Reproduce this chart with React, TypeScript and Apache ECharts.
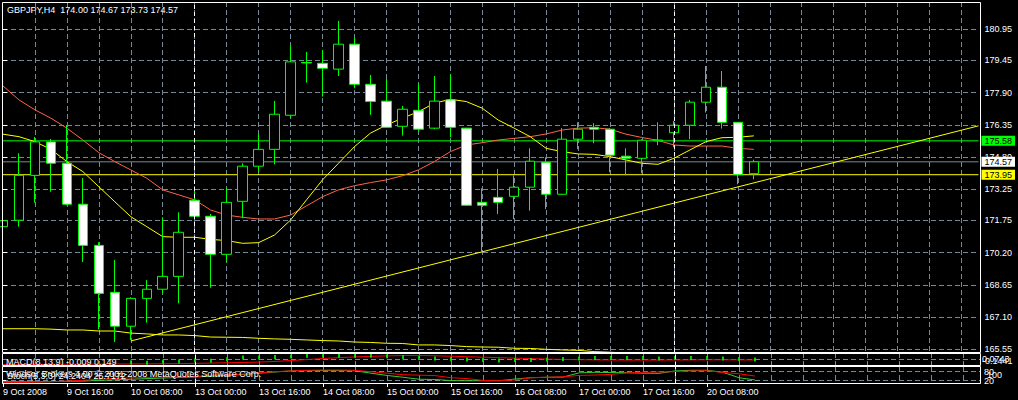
import React, { useEffect, useRef } from "react";
import * as echarts from "echarts";

// ---------------- DATA ----------------
const titleText = "GBPJPY,H4  174.00 174.67 173.73 174.57";
const macdLabel = "MACD(8,13,9) -0.009 0.149";
const brokerLabel = "Windsor Brokers 4.00 \u00a9 2001-2008 MetaQuotes Software Corp.";
const stochLabel = "Stoch(5,3,3) 24.2404 25.7172";
const macdScaleLabels = ["0.0743", "-0.1441"];
const stochExtraLabel = "100";

const timeLabels = [
  "9 Oct 2008", "9 Oct 16:00", "10 Oct 08:00", "13 Oct 00:00", "13 Oct 16:00", "14 Oct 08:00",
  "15 Oct 00:00", "15 Oct 16:00", "16 Oct 08:00", "17 Oct 00:00", "17 Oct 16:00", "20 Oct 08:00",
];
const timeLabelBars = [0, 4, 8, 12, 16, 20, 24, 28, 32, 36, 40, 44];
const separatorBars = [12, 42];

const priceTicks = [180.95, 179.45, 177.9, 176.35, 174.8, 173.25, 171.75, 170.2, 168.65, 167.1, 165.55];

const opens = [
  171.45, 171.76, 173.92, 175.53, 174.5, 172.53, 170.55, 168.29, 166.66, 168.0, 168.44, 169.06,
  172.72, 171.95, 170.12, 172.67, 174.36, 175.17, 176.81, 179.35, 179.31, 179.03, 180.23, 178.3,
  177.49, 176.28, 177.05, 176.19, 177.55, 176.19, 172.62, 172.86, 172.91, 173.35, 174.55, 173.01,
  175.66, 176.23, 176.14, 174.84, 174.74, 175.58, 175.97, 176.33, 177.44, 178.16, 176.47, 174.0,
];
const highs = [
  173.09, 174.98, 175.77, 175.67, 176.34, 173.79, 170.7, 169.85, 168.05, 168.88, 171.9, 172.14,
  173.37, 172.06, 173.3, 174.5, 175.9, 177.5, 180.19, 179.86, 179.95, 181.35, 180.57, 178.75,
  178.56, 177.26, 178.32, 178.7, 178.78, 176.2, 173.3, 174.23, 173.92, 175.22, 174.79, 176.19,
  176.47, 176.43, 176.19, 175.22, 175.65, 176.47, 176.54, 177.55, 179.18, 178.94, 176.47, 174.67,
];
const lows = [
  170.84, 171.45, 172.6, 173.13, 172.48, 169.75, 166.51, 165.9, 166.0, 166.83, 168.24, 167.76,
  171.9, 168.51, 169.74, 171.86, 174.07, 174.45, 176.67, 178.38, 177.71, 178.7, 178.11, 176.83,
  176.2, 175.83, 176.02, 176.14, 175.75, 172.45, 170.2, 172.06, 171.81, 172.22, 172.29, 172.98,
  175.18, 175.46, 174.07, 173.92, 174.02, 175.37, 175.27, 175.66, 176.94, 176.17, 173.49, 173.73,
];
const closes = [
  171.74, 173.92, 175.53, 174.5, 172.53, 170.55, 168.24, 166.66, 168.0, 168.44, 169.06, 171.18,
  171.95, 170.12, 172.62, 174.36, 175.17, 176.86, 179.38, 179.33, 179.07, 180.23, 178.3, 177.47,
  176.23, 177.1, 176.14, 177.49, 176.23, 172.48, 172.48, 172.62, 173.35, 174.6, 173.01, 175.66,
  176.14, 176.14, 174.89, 174.74, 175.61, 175.62, 176.33, 177.44, 178.16, 176.47, 173.95, 174.57,
];

const maFast = [
  175.9, 175.78, 175.54, 175.17, 174.58, 174.1, 173.37, 172.65, 171.93, 171.45, 170.97, 170.94,
  170.94, 170.84, 170.78, 170.65, 170.68, 171.05, 171.77, 172.74, 173.7, 174.5, 175.3, 175.95,
  176.34, 176.67, 176.98, 177.39, 177.58, 177.47, 177.15, 176.58, 176.19, 175.78, 175.22, 175.06,
  174.95, 174.93, 174.82, 174.66, 174.5, 174.45, 174.74, 175.14, 175.54, 175.73, 175.75, 175.82,
];
const maSlow = [
  178.22, 177.55, 177.07, 176.67, 176.19, 175.62, 175.01, 174.58, 174.18, 173.78, 173.22, 172.98,
  172.74, 172.25, 172.01, 171.9, 171.82, 171.82, 172.01, 172.45, 172.89, 173.22, 173.42, 173.57,
  173.7, 173.9, 174.18, 174.58, 175.06, 175.38, 175.49, 175.62, 175.7, 175.78, 175.91, 176.1,
  176.19, 176.21, 176.14, 175.9, 175.74, 175.6, 175.38, 175.33, 175.33, 175.33, 175.22, 175.17,
];
const maLong = [
  166.54, 166.54, 166.54, 166.52, 166.48, 166.48, 166.43, 166.43, 166.33, 166.29, 166.24, 166.24,
  166.21, 166.14, 166.13, 166.12, 166.08, 166.05, 166.03, 166.0, 165.97, 165.95, 165.9, 165.88,
  165.84, 165.83, 165.76, 165.76, 165.73, 165.68, 165.66, 165.65, 165.6, 165.59, 165.55, 165.52,
  165.5, 165.44, 165.41, 165.37, 165.34, 165.3, 165.27, 165.23, 165.2, 165.16, 165.13, 165.09,
];

const trendBars = [8, 61.06];
const trendPrices = [165.95, 176.3];

const levelGreen = 175.58;
const levelBid = 174.57;
const levelYellow = 173.95;

const macdSignal = [
  -0.118, -0.117, -0.116, -0.115, -0.114, -0.113, -0.112, -0.111, -0.11, -0.108, -0.106, -0.104,
  -0.1, -0.095, -0.09, -0.084, -0.078, -0.068, -0.052, -0.036, -0.018, -0.004, 0.008, 0.018,
  0.026, 0.032, 0.032, 0.028, 0.02, 0.012, 0.004, -0.004, -0.012, -0.02, -0.028, -0.034,
  -0.038, -0.041, -0.043, -0.044, -0.044, -0.044, -0.043, -0.042, -0.04, -0.04, -0.041, -0.043,
];
const macdHist = [
  null, null, null, null, null, null, null, null, -0.079, -0.088, -0.074, -0.067,
  -0.053, -0.056, -0.031, 0.0, 0.0, 0.009, 0.014, 0.027, 0.027, 0.027, 0.027, 0.027,
  0.018, 0.004, -0.008, -0.017, -0.026, -0.035, -0.044, -0.053, -0.044, -0.044, -0.035, -0.026,
  -0.017, -0.008, -0.008, -0.008, -0.008, -0.017, -0.008, -0.008, -0.008, -0.017, -0.026, -0.035,
];
const macdGridLevels = [-0.037];

const stochMain = [
  13, 13, 13, 14, 16, 18, 22, 26, 30, 34, 38, 42, 45, 50, 55, 62, 70, 78, 85, 87, 88, 87, 86, 70,
  55, 43, 30, 28, 21, 20, 20, 20, 31, 40, 43, 44, 72, 76, 74, 73, 70, 69, 85, 89, 89, 76, 40, 25,
];
const stochSignal = [
  7, 8, 10, 14, 18, 23, 30, 36, 39, 42, 44, 45, 47, 56, 58, 64, 72, 80, 85, 89, 91, 91, 89, 80,
  70, 60, 57, 54, 40, 34, 22, 20, 25, 40, 43, 46, 55, 58, 62, 72, 76, 78, 80, 85, 86, 75, 66, 51,
];
const stochLevels = [20, 80];

// ---------------- LAYOUT / STYLE ----------------
const FONT = "'Liberation Sans', Arial, sans-serif";
const GRID_COLOR = "#778899";
const DASH = [5, 3];
const LEFT = 3;
const RIGHT_X = 980;
const BAR_PX = 16;
const XMAX = (RIGHT_X - LEFT) / BAR_PX;
const PRICE_MIN = 165.42;
const PRICE_MAX = 182.26;
const MACD_MIN = -0.1441;
const MACD_MAX = 0.0743;
const STOCH_MIN = 5;
const STOCH_MAX = 111;

function xGridAxis(gridIndex: number) {
  return {
    type: "value",
    gridIndex,
    min: 0,
    max: XMAX,
    interval: 2,
    axisLine: { show: false },
    axisTick: { show: false },
    axisLabel: { show: false },
    splitLine: {
      show: true,
      showMinLine: false,
      showMaxLine: false,
      lineStyle: { color: GRID_COLOR, type: DASH, width: 1 },
    },
  };
}

function levelAxis(value: number, bg: string) {
  return {
    type: "value",
    gridIndex: 0,
    position: "right",
    min: PRICE_MIN,
    max: PRICE_MAX,
    z: 10,
    axisLine: { show: false },
    axisTick: { show: false },
    splitLine: { show: false },
    axisLabel: {
      show: true,
      customValues: [value],
      formatter: (v: number) => v.toFixed(2),
      margin: 3,
      color: "#000",
      backgroundColor: bg,
      padding: [1, 3, 0, 3],
      fontSize: 9,
      fontFamily: FONT,
    },
  };
}

function line(data: any[], color: string, xi: number, yi: number, z = 2, type: any = "solid") {
  return {
    type: "line",
    xAxisIndex: xi,
    yAxisIndex: yi,
    data,
    showSymbol: false,
    symbol: "none",
    silent: true,
    z,
    lineStyle: { color, width: 1, type },
    itemStyle: { color },
  };
}

function separators() {
  return {
    symbol: ["none", "none"],
    silent: true,
    label: { show: false },
    lineStyle: { color: "#ffffff", type: [4, 3], width: 1 },
    data: separatorBars.map((b) => ({ xAxis: b })),
  };
}

function text(str: string, x: number, y: number, z = 50) {
  return {
    type: "text",
    x,
    y,
    z,
    silent: true,
    style: {
      text: str,
      fill: "#ffffff",
      fontSize: 9,
      fontFamily: FONT,
      align: "left",
      verticalAlign: "top",
    },
  };
}

function rect(x: number, y: number, w: number, h: number) {
  return {
    type: "rect",
    z: 40,
    silent: true,
    shape: { x, y, width: w, height: h },
    style: { fill: "none", stroke: "#ffffff", lineWidth: 1 },
  };
}

function buildOption() {
  const idx = opens.map((_, i) => i);
  const candles = idx.map((i) => [i, opens[i], closes[i], lows[i], highs[i]]);
  const level = (v: number) => [[0, v], [XMAX, v]];

  return {
    animation: false,
    backgroundColor: "#000000",
    textStyle: { fontFamily: FONT, fontSize: 9, color: "#fff" },
    grid: [
      { left: LEFT, top: 2, width: RIGHT_X - LEFT, height: 350 },
      { left: LEFT, top: 353, width: RIGHT_X - LEFT, height: 13 },
      { left: LEFT, top: 367, width: RIGHT_X - LEFT, height: 16 },
    ],
    xAxis: [
      xGridAxis(0),
      xGridAxis(1),
      xGridAxis(2),
      {
        type: "value",
        gridIndex: 2,
        min: 0,
        max: XMAX,
        position: "bottom",
        axisLine: { show: true, onZero: false, lineStyle: { color: "#fff", width: 1 } },
        axisTick: { show: true, customValues: timeLabelBars, length: 4, lineStyle: { color: "#fff" } },
        axisLabel: {
          show: true,
          customValues: timeLabelBars,
          formatter: (v: number) => timeLabels[timeLabelBars.indexOf(v)] ?? "",
          align: "left",
          margin: 4,
          color: "#fff",
          fontSize: 9,
          fontFamily: FONT,
        },
        splitLine: { show: false },
      },
    ],
    yAxis: [
      {
        type: "value",
        gridIndex: 0,
        position: "right",
        min: PRICE_MIN,
        max: PRICE_MAX,
        axisLine: { show: false },
        axisTick: { show: true, customValues: priceTicks, length: 4, lineStyle: { color: "#fff" } },
        axisLabel: {
          show: true,
          customValues: priceTicks,
          formatter: (v: number) => v.toFixed(2),
          margin: 6,
          color: "#fff",
          fontSize: 9,
          fontFamily: FONT,
        },
        splitLine: { show: true, lineStyle: { color: GRID_COLOR, type: DASH, width: 1 } },
      },
      levelAxis(levelGreen, "#00ff00"),
      levelAxis(levelBid, "#ffffff"),
      levelAxis(levelYellow, "#ffff00"),
      {
        type: "value",
        gridIndex: 1,
        position: "right",
        min: MACD_MIN,
        max: MACD_MAX,
        axisLine: { show: false },
        axisTick: { show: false, customValues: macdGridLevels },
        axisLabel: { show: false },
        splitLine: { show: true, lineStyle: { color: GRID_COLOR, type: DASH, width: 1 } },
      },
      {
        type: "value",
        gridIndex: 2,
        position: "right",
        min: STOCH_MIN,
        max: STOCH_MAX,
        axisLine: { show: false },
        axisTick: { show: true, customValues: stochLevels, length: 3, lineStyle: { color: "#fff" } },
        axisLabel: {
          show: true,
          customValues: stochLevels,
          margin: 4,
          color: "#fff",
          fontSize: 9,
          fontFamily: FONT,
        },
        splitLine: { show: true, lineStyle: { color: GRID_COLOR, type: DASH, width: 1 } },
      },
    ],
    series: [
      line(level(levelGreen), "#00ff00", 0, 0, 1),
      line(level(levelBid), "#778899", 0, 0, 1),
      line(level(levelYellow), "#ffff00", 0, 0, 1),
      line(idx.map((i) => [i, maLong[i]]), "#ffff00", 0, 0, 2),
      line(trendBars.map((b, i) => [b, trendPrices[i]]), "#ffff00", 0, 0, 2),
      line(idx.map((i) => [i, maSlow[i]]), "#ff6347", 0, 0, 2),
      line(idx.map((i) => [i, maFast[i]]), "#ffff00", 0, 0, 2),
      {
        type: "candlestick",
        xAxisIndex: 0,
        yAxisIndex: 0,
        data: candles,
        encode: { x: 0, y: [1, 2, 3, 4] },
        barWidth: 10,
        silent: true,
        z: 3,
        itemStyle: {
          color: "#000000",
          color0: "#ffffff",
          borderColor: "#00ff00",
          borderColor0: "#00ff00",
          borderWidth: 1,
        },
        markLine: separators(),
      },
      {
        ...line(idx.map((i) => [i, macdSignal[i]]), "#ff0000", 1, 4, 2),
        markLine: separators(),
      },
      {
        type: "scatter",
        xAxisIndex: 1,
        yAxisIndex: 4,
        silent: true,
        symbol: "rect",
        symbolSize: [2, 4],
        itemStyle: { color: "#00ff00" },
        z: 3,
        data: idx.filter((i) => macdHist[i] !== null).map((i) => [i, macdHist[i]]),
      },
      {
        ...line(idx.map((i) => [i, stochMain[i]]), "#32cd32", 2, 5, 2),
        markLine: separators(),
      },
      line(idx.map((i) => [i, stochSignal[i]]), "#ff0000", 2, 5, 3),
    ],
    graphic: [
      rect(2.5, 2.5, 978, 350),
      rect(2.5, 353.5, 978, 12),
      rect(2.5, 366.5, 978, 17),
      text(titleText, 7, 5.5),
      text(macdLabel, 6, 357.5),
      text(brokerLabel, 6, 369),
      text(stochLabel, 7, 371.5),
      text(macdScaleLabels[0], 982, 354),
      text(macdScaleLabels[1], 982, 356.5),
      text(stochExtraLabel, 987, 370),
    ],
  };
}

export default function App() {
  const ref = useRef<HTMLDivElement>(null);
  useEffect(() => {
    if (!ref.current) return;
    const chart = echarts.init(ref.current, null, { renderer: "svg" });
    chart.setOption(buildOption() as any);
    return () => chart.dispose();
  }, []);
  return (
    <div
      ref={ref}
      style={{ position: "absolute", left: 0, top: 0, width: 1018, height: 400, background: "#000" }}
    />
  );
}
